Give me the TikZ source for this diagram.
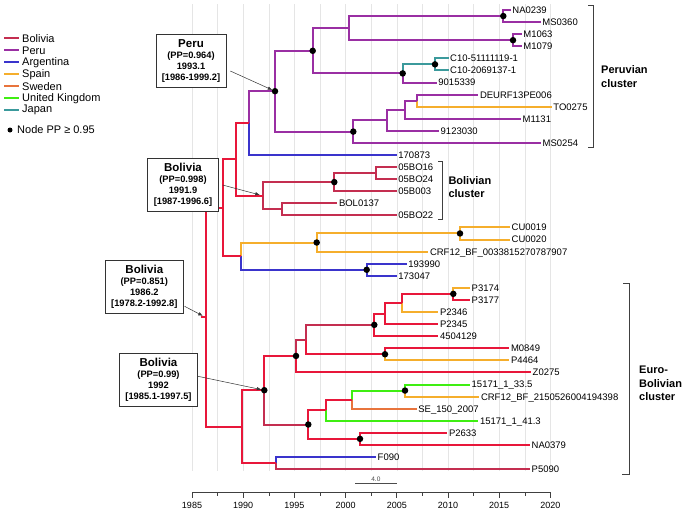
\documentclass[tikz,border=0pt]{standalone}
\usepackage{fontspec}
\setmainfont{Liberation Sans}
\usetikzlibrary{arrows.meta}
\definecolor{cBolivia}{HTML}{E8173A}
\definecolor{cBolDark}{HTML}{C42E50}
\definecolor{cPeru}{HTML}{9A2FA3}
\definecolor{cArgentina}{HTML}{3A34CC}
\definecolor{cSpain}{HTML}{F5AE2C}
\definecolor{cSweden}{HTML}{E8743C}
\definecolor{cUK}{HTML}{3FEE12}
\definecolor{cJapan}{HTML}{3B9A9C}
\def\branch[#1](#2)(#3){\draw[#1] (#2) |- (#3);}
\tikzset{
  br/.style={line width=2pt},
  ppdot/.style={circle, fill=black, inner sep=0pt, minimum size=6.5pt},
  tiplabel/.style={anchor=west, inner sep=1.5pt, text height=6.8pt, text depth=0pt, font=\fontsize{9.5}{11}\selectfont},
  callout/.style={draw=black!80, fill=white, line width=0.6pt, align=center, inner sep=0pt, minimum height=53pt, font=\fontsize{9.3}{11}\selectfont\bfseries},
  pointer/.style={-{Latex[length=4.5pt,width=3.5pt]}, line width=0.5pt, color=black!80, shorten >=3pt},
  cluster/.style={anchor=west, align=left, inner sep=0pt, font=\fontsize{11}{13.3}\selectfont\bfseries},
  bracket/.style={line width=0.8pt, color=black!75},
  gridline/.style={line width=0.5pt, color=black!10},
  legendtxt/.style={anchor=west, inner sep=1pt, font=\fontsize{11}{13}\selectfont},
  yearlabel/.style={font=\fontsize{9}{10}\selectfont}
}

\begin{document}
\begin{tikzpicture}[x=1pt,y=-1pt]
		%%%%% START %%%%%
		\path[fill=white, use as bounding box] (0,0) rectangle (685,512);
		
		% time grid
		\draw[gridline] (192,4) -- (192,471) (217.6,4) -- (217.6,471) (243.2,4) -- (243.2,471) (268.8,4) -- (268.8,471) (294.4,4) -- (294.4,471) (320,4) -- (320,471) (345.6,4) -- (345.6,471) (371.2,4) -- (371.2,471) (396.8,4) -- (396.8,471) (422.4,4) -- (422.4,471) (448,4) -- (448,471) (473.6,4) -- (473.6,471) (499.2,4) -- (499.2,471) (524.8,4) -- (524.8,471) (550.4,4) -- (550.4,471);
		
		% internal nodes
		\coordinate (root) at (205.5,317.2);
		\coordinate (rootstub) at (200.5,317.2);
		\coordinate (n1) at (503.3,16.05);
		\coordinate (n2) at (513,40.2);
		\coordinate (n3) at (349.3,28.1);
		\coordinate (n4) at (435,64.35);
		\coordinate (n5) at (402.7,73.4);
		\coordinate (n6) at (312.7,50.8);
		\coordinate (n7) at (416.7,100.6);
		\coordinate (n8) at (405,109.65);
		\coordinate (n9) at (387.3,120.2);
		\coordinate (n10) at (353.3,131.6);
		\coordinate (n11) at (275,91.2);
		\coordinate (n12) at (249.3,123.1);
		\coordinate (n13) at (376,173.05);
		\coordinate (n14) at (334.3,182.1);
		\coordinate (n15) at (281.7,209.35);
		\coordinate (n16) at (262.7,195.7);
		\coordinate (n17) at (236,159.4);
		\coordinate (n18) at (460,233.45);
		\coordinate (n19) at (316.7,242.5);
		\coordinate (n20) at (366.7,269.75);
		\coordinate (n21) at (240.7,256.1);
		\coordinate (n22) at (223.3,207.8);
		\coordinate (n23) at (453.3,293.85);
		\coordinate (n24) at (401.7,302.9);
		\coordinate (n25) at (385,313.5);
		\coordinate (n26) at (374.3,324.85);
		\coordinate (n27) at (385,354.25);
		\coordinate (n28) at (306,339.55);
		\coordinate (n29) at (296,355.95);
		\coordinate (n30) at (405,390.55);
		\coordinate (n31) at (351.7,399.6);
		\coordinate (n32) at (325.7,410.15);
		\coordinate (n33) at (360,438.85);
		\coordinate (n34) at (308.3,424.5);
		\coordinate (n35) at (264.3,390.2);
		\coordinate (n36) at (276,463);
		\coordinate (n37) at (241.7,426.6);
		
		% tips
		\node[tiplabel] (tNA0239) at (510.7,10.0) {NA0239};
		\node[tiplabel] (tMS0360) at (540.7,22.1) {MS0360};
		\node[tiplabel] (tM1063) at (521.7,34.2) {M1063};
		\node[tiplabel] (tM1079) at (521.7,46.2) {M1079};
		\node[tiplabel] (tC10a) at (448.5,58.3) {C10-51111119-1};
		\node[tiplabel] (tC10b) at (448.5,70.4) {C10-2069137-1};
		\node[tiplabel] (t9015339) at (436.7,82.5) {9015339};
		\node[tiplabel] (tDEURF) at (478.3,94.6) {DEURF13PE006};
		\node[tiplabel] (tTO0275) at (551.7,106.6) {TO0275};
		\node[tiplabel] (tM1131) at (521,118.7) {M1131};
		\node[tiplabel] (t9123030) at (439,130.8) {9123030};
		\node[tiplabel] (tMS0254) at (541,142.9) {MS0254};
		\node[tiplabel] (t170873) at (396.7,155.0) {170873};
		\node[tiplabel] (t05BO16) at (396.7,167.0) {05BO16};
		\node[tiplabel] (t05BO24) at (396.7,179.1) {05BO24};
		\node[tiplabel] (t05B003) at (396.7,191.2) {05B003};
		\node[tiplabel] (tBOL0137) at (337.3,203.3) {BOL0137};
		\node[tiplabel] (t05BO22) at (396.7,215.4) {05BO22};
		\node[tiplabel] (tCU0019) at (510,227.4) {CU0019};
		\node[tiplabel] (tCU0020) at (510,239.5) {CU0020};
		\node[tiplabel] (tCRFa) at (428.3,251.6) {CRF12\_BF\_0033815270787907};
		\node[tiplabel] (t193990) at (406.7,263.7) {193990};
		\node[tiplabel] (t173047) at (396.7,275.8) {173047};
		\node[tiplabel] (tP3174) at (470,287.8) {P3174};
		\node[tiplabel] (tP3177) at (470,299.9) {P3177};
		\node[tiplabel] (tP2346) at (438.3,312.0) {P2346};
		\node[tiplabel] (tP2345) at (438.3,324.1) {P2345};
		\node[tiplabel] (t4504129) at (438.3,336.2) {4504129};
		\node[tiplabel] (tM0849) at (509.3,348.2) {M0849};
		\node[tiplabel] (tP4464) at (509.3,360.3) {P4464};
		\node[tiplabel] (tZ0275) at (531,372.4) {Z0275};
		\node[tiplabel] (tUKa) at (470,384.5) {15171\_1\_33.5};
		\node[tiplabel] (tCRFb) at (479.3,396.6) {CRF12\_BF\_2150526004194398};
		\node[tiplabel] (tSE) at (416.7,408.6) {SE\_150\_2007};
		\node[tiplabel] (tUKb) at (478.3,420.7) {15171\_1\_41.3};
		\node[tiplabel] (tP2633) at (447.3,432.8) {P2633};
		\node[tiplabel] (tNA0379) at (530,444.9) {NA0379};
		\node[tiplabel] (tF090) at (376,457.0) {F090};
		\node[tiplabel] (tP5090) at (530,469.0) {P5090};
		
		% Peruvian clade
		\branch[br,color=cPeru](n1)(tNA0239.west);
		\branch[br,color=cPeru](n1)(tMS0360.west);
		\branch[br,color=cPeru](n2)(tM1063.west);
		\branch[br,color=cPeru](n2)(tM1079.west);
		\branch[br,color=cPeru](n3)(n1);
		\branch[br,color=cPeru](n3)(n2);
		\branch[br,color=cJapan](n4)(tC10a.west);
		\branch[br,color=cJapan](n4)(tC10b.west);
		\branch[br,color=cJapan](n5)(n4);
		\branch[br,color=cPeru](n5)(t9015339.west);
		\branch[br,color=cPeru](n6)(n3);
		\branch[br,color=cPeru](n6)(n5);
		\branch[br,color=cPeru](n7)(tDEURF.west);
		\branch[br,color=cSpain](n7)(tTO0275.west);
		\branch[br,color=cPeru](n8)(n7);
		\branch[br,color=cPeru](n8)(tM1131.west);
		\branch[br,color=cPeru](n9)(n8);
		\branch[br,color=cPeru](n9)(t9123030.west);
		\branch[br,color=cPeru](n10)(n9);
		\branch[br,color=cPeru](n10)(tMS0254.west);
		\branch[br,color=cPeru](n11)(n6);
		\branch[br,color=cPeru](n11)(n10);
		\branch[br,color=cPeru](n12)(n11);
		\branch[br,color=cArgentina](n12)(t170873.west);
		
		% Bolivian clade
		\branch[br,color=cBolDark](n13)(t05BO16.west);
		\branch[br,color=cBolDark](n13)(t05BO24.west);
		\branch[br,color=cBolDark](n14)(n13);
		\branch[br,color=cBolDark](n14)(t05B003.west);
		\branch[br,color=cBolDark](n15)(tBOL0137.west);
		\branch[br,color=cBolDark](n15)(t05BO22.west);
		\branch[br,color=cBolDark](n16)(n14);
		\branch[br,color=cBolDark](n16)(n15);
		\branch[br,color=cBolivia](n17)(n12);
		\branch[br,color=cBolivia](n17)(n16);
		
		\branch[br,color=cSpain](n18)(tCU0019.west);
		\branch[br,color=cSpain](n18)(tCU0020.west);
		\branch[br,color=cSpain](n19)(n18);
		\branch[br,color=cSpain](n19)(tCRFa.west);
		\branch[br,color=cArgentina](n20)(t193990.west);
		\branch[br,color=cArgentina](n20)(t173047.west);
		\branch[br,color=cSpain](n21)(n19);
		\branch[br,color=cArgentina](n21)(n20);
		\branch[br,color=cBolivia](n22)(n17);
		\branch[br,color=cBolivia](n22)(n21);
		
		% Euro-Bolivian clade
		\branch[br,color=cSpain](n23)(tP3174.west);
		\branch[br,color=cBolivia](n23)(tP3177.west);
		\branch[br,color=cBolivia](n24)(n23);
		\branch[br,color=cSpain](n24)(tP2346.west);
		\branch[br,color=cBolivia](n25)(n24);
		\branch[br,color=cBolivia](n25)(tP2345.west);
		\branch[br,color=cBolivia](n26)(n25);
		\branch[br,color=cBolivia](n26)(t4504129.west);
		\branch[br,color=cBolivia](n27)(tM0849.west);
		\branch[br,color=cSpain](n27)(tP4464.west);
		\branch[br,color=cBolDark](n28)(n26);
		\branch[br,color=cBolivia](n28)(n27);
		\branch[br,color=cBolDark](n29)(n28);
		\branch[br,color=cBolivia](n29)(tZ0275.west);
		\branch[br,color=cUK](n30)(tUKa.west);
		\branch[br,color=cSpain](n30)(tCRFb.west);
		\branch[br,color=cUK](n31)(n30);
		\branch[br,color=cSweden](n31)(tSE.west);
		\branch[br,color=cBolivia](n32)(n31);
		\branch[br,color=cUK](n32)(tUKb.west);
		\branch[br,color=cBolivia](n33)(tP2633.west);
		\branch[br,color=cBolivia](n33)(tNA0379.west);
		\branch[br,color=cBolivia](n34)(n32);
		\branch[br,color=cBolivia](n34)(n33);
		\branch[br,color=cBolivia](n35)(n29);
		\branch[br,color=cBolDark](n35)(n34);
		\branch[br,color=cArgentina](n36)(tF090.west);
		\branch[br,color=cBolDark](n36)(tP5090.west);
		\branch[br,color=cBolivia](n37)(n35);
		\branch[br,color=cBolivia](n37)(n36);
		
		\branch[br,color=cBolivia](root)(n22);
		\branch[br,color=cBolivia](root)(n37);
		\draw[br,color=cBolivia] (rootstub) -- (root);
		
		% PP >= 0.95
		\node[ppdot] (d1) at (n1) {};
		\node[ppdot] (d2) at (n2) {};
		\node[ppdot] (d4) at (n4) {};
		\node[ppdot] (d5) at (n5) {};
		\node[ppdot] (d6) at (n6) {};
		\node[ppdot] (d10) at (n10) {};
		\node[ppdot] (d11) at (n11) {};
		\node[ppdot] (d14) at (n14) {};
		\node[ppdot] (d18) at (n18) {};
		\node[ppdot] (d19) at (n19) {};
		\node[ppdot] (d20) at (n20) {};
		\node[ppdot] (d23) at (n23) {};
		\node[ppdot] (d26) at (n26) {};
		\node[ppdot] (d27) at (n27) {};
		\node[ppdot] (d29) at (n29) {};
		\node[ppdot] (d30) at (n30) {};
		\node[ppdot] (d33) at (n33) {};
		\node[ppdot] (d34) at (n34) {};
		\node[ppdot] (d35) at (n35) {};
		
		% dated nodes
		\node[callout, minimum width=70pt] (boxPeru) at (191,61) {{\fontsize{11.5}{12}\selectfont Peru}\\(PP=0.964)\\1993.1\\{[}1986-1999.2{]}};
		\node[callout, minimum width=70.6pt] (boxBolA) at (183,185) {{\fontsize{11.5}{12}\selectfont Bolivia}\\(PP=0.998)\\1991.9\\{[}1987-1996.6{]}};
		\node[callout, minimum width=78pt] (boxRoot) at (144.3,286.3) {{\fontsize{11.5}{12}\selectfont Bolivia}\\(PP=0.851)\\1986.2\\{[}1978.2-1992.8{]}};
		\node[callout, minimum width=78.4pt] (boxBolB) at (158.5,379.3) {{\fontsize{11.5}{12}\selectfont Bolivia}\\(PP=0.99)\\1992\\{[}1985.1-1997.5{]}};
		\draw[pointer] ([shift={(4,10)}]boxPeru.east) -- (n11);
		\draw[pointer] ([shift={(4,0)}]boxBolA.east) -- (n16);
		\draw[pointer] ([shift={(1,20)}]boxRoot.east) -- (root);
		\draw[pointer] ([shift={(0,-3)}]boxBolB.east) -- (n35);
		
		% clusters
		\draw[bracket] (588.3,5) -- (593.3,5) -- (593.3,147) -- (588.3,147);
		\node[cluster] (cPeruvian) at (601,76.7) {Peruvian\\cluster};
		\draw[bracket] (438.3,161) -- (442.7,161) -- (442.7,219.3) -- (438.3,219.3);
		\node[cluster] (cBolivian) at (448.3,187.3) {Bolivian\\cluster};
		\draw[bracket] (623.3,283.3) -- (629.3,283.3) -- (629.3,474) -- (622,474);
		\node[cluster] (cEuro) at (639,383.3) {Euro-\\Bolivian\\cluster};
		
		% legend
		\draw[br,color=cBolDark] (4,38.3) -- (19,38.3);
		\node[legendtxt] (lBolivia) at (21,38.3) {Bolivia};
		\draw[br,color=cPeru] (4,50.3) -- (19,50.3);
		\node[legendtxt] (lPeru) at (21,50.3) {Peru};
		\draw[br,color=cArgentina] (4,62.3) -- (19,62.3);
		\node[legendtxt] (lArgentina) at (21,62.3) {Argentina};
		\draw[br,color=cSpain] (4,74.3) -- (19,74.3);
		\node[legendtxt] (lSpain) at (21,74.3) {Spain};
		\draw[br,color=cSweden] (4,86.3) -- (19,86.3);
		\node[legendtxt] (lSweden) at (21,86.3) {Sweden};
		\draw[br,color=cUK] (4,98.3) -- (19,98.3);
		\node[legendtxt] (lUK) at (21,98.3) {United Kingdom};
		\draw[br,color=cJapan] (4,110.3) -- (19,110.3);
		\node[legendtxt] (lJapan) at (21,110.3) {Japan};
		\node[ppdot, minimum size=5pt] (lDot) at (10,130) {};
		\node[legendtxt] (lNode) at (16,130) {Node PP ≥ 0.95};
		
		% scale bar
		\draw[line width=0.6pt, color=black!70] (355,483) -- (396.7,483) node[midway, above, inner sep=1.5pt, font=\fontsize{6.5}{7}\selectfont] (scale) {4.0};
		
		% time axis
		\draw[line width=0.7pt, color=black!75] (192,492) -- (550.4,492);
		\draw[line width=0.7pt, color=black!75] (192,492) -- (192,498) (243.2,492) -- (243.2,498) (294.4,492) -- (294.4,498) (345.6,492) -- (345.6,498) (396.8,492) -- (396.8,498) (448,492) -- (448,498) (499.2,492) -- (499.2,498) (550.4,492) -- (550.4,498);
		\draw[line width=0.6pt, color=black!75] (217.6,492) -- (217.6,496) (268.8,492) -- (268.8,496) (320,492) -- (320,496) (371.2,492) -- (371.2,496) (422.4,492) -- (422.4,496) (473.6,492) -- (473.6,496) (524.8,492) -- (524.8,496);
		\node[yearlabel] (y1985) at (192,505) {1985};
		\node[yearlabel] (y1990) at (243.2,505) {1990};
		\node[yearlabel] (y1995) at (294.4,505) {1995};
		\node[yearlabel] (y2000) at (345.6,505) {2000};
		\node[yearlabel] (y2005) at (396.8,505) {2005};
		\node[yearlabel] (y2010) at (448,505) {2010};
		\node[yearlabel] (y2015) at (499.2,505) {2015};
		\node[yearlabel] (y2020) at (550.4,505) {2020};
		
		%%%%% END %%%%%
\end{tikzpicture}
\end{document}
